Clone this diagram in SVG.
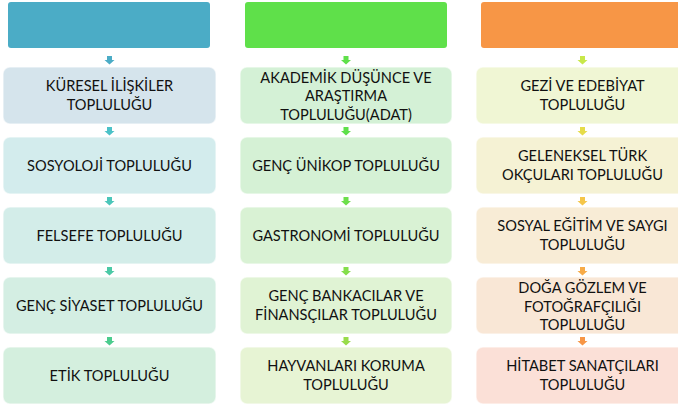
<svg xmlns="http://www.w3.org/2000/svg" xmlns:xlink="http://www.w3.org/1999/xlink" width="678" height="408" viewBox="0 0 678 408">
<defs>
<style>
.hdr{stroke:none}
.box{stroke:#ffffff;stroke-opacity:0.55;stroke-width:1.5}
text{font-family:Lato,"Liberation Sans",sans-serif;font-size:14.6px;fill:#111111;text-anchor:middle}
</style>
<path id="arr" d="M-2.5 0 h5 v4 h2.5 l-5 4.5 l-5 -4.5 h2.5 z"/>
</defs>
<rect width="678" height="408" fill="#ffffff"/>
<g id="connectors">
<use xlink:href="#arr" x="109.5" y="56" fill="#4BACC6"/>
<use xlink:href="#arr" x="109.5" y="127" fill="#4BC2C8"/>
<use xlink:href="#arr" x="109.5" y="197" fill="#4BC6BA"/>
<use xlink:href="#arr" x="109.5" y="267" fill="#4BC9A6"/>
<use xlink:href="#arr" x="109.5" y="337" fill="#4BCC8E"/>
<use xlink:href="#arr" x="346" y="56" fill="#5FE04A"/>
<use xlink:href="#arr" x="346" y="127" fill="#5EE04A"/>
<use xlink:href="#arr" x="346" y="197" fill="#6CDF4A"/>
<use xlink:href="#arr" x="346" y="267" fill="#84DE4A"/>
<use xlink:href="#arr" x="346" y="337" fill="#98DC4A"/>
<use xlink:href="#arr" x="582.5" y="56" fill="#C8E84A"/>
<use xlink:href="#arr" x="582.5" y="127" fill="#E6DC4A"/>
<use xlink:href="#arr" x="582.5" y="197" fill="#F5C64A"/>
<use xlink:href="#arr" x="582.5" y="267" fill="#F7AB48"/>
<use xlink:href="#arr" x="582.5" y="337" fill="#F79646"/>
</g>
<g id="hdr1"><rect class="hdr" x="8" y="2" width="202" height="46" rx="3" fill="#4BACC6"/></g>
<g id="hdr2"><rect class="hdr" x="245" y="2" width="202" height="46" rx="3" fill="#5FE04A"/></g>
<g id="hdr3"><rect class="hdr" x="481" y="2" width="202" height="46" rx="3" fill="#F79646"/></g>

<g id="c1b1"><rect class="box" x="3" y="67" width="213" height="57" rx="7" fill="#D5E4EC"/>
<text x="109.5" y="91">KÜRESEL İLİŞKİLER</text><text x="109.5" y="110">TOPLULUĞU</text></g>
<g id="c1b2"><rect class="box" x="3" y="137" width="213" height="57" rx="7" fill="#D3ECED"/>
<text x="109.5" y="171">SOSYOLOJİ TOPLULUĞU</text></g>
<g id="c1b3"><rect class="box" x="3" y="207" width="213" height="57" rx="7" fill="#D3EDE9"/>
<text x="109.5" y="241">FELSEFE TOPLULUĞU</text></g>
<g id="c1b4"><rect class="box" x="3" y="277" width="213" height="57" rx="7" fill="#D4EEE3"/>
<text x="109.5" y="311">GENÇ SİYASET TOPLULUĞU</text></g>
<g id="c1b5"><rect class="box" x="3" y="347" width="213" height="57" rx="7" fill="#D4EFDE"/>
<text x="109.5" y="381">ETİK TOPLULUĞU</text></g>

<g id="c2b1"><rect class="box" x="240" y="67" width="212" height="57" rx="7" fill="#D4F1D6"/>
<text x="346" y="83">AKADEMİK DÜŞÜNCE VE</text><text x="346" y="101">ARAŞTIRMA</text><text x="346" y="119.5">TOPLULUĞU(ADAT)</text></g>
<g id="c2b2"><rect class="box" x="240" y="137" width="212" height="57" rx="7" fill="#D5F1D5"/>
<text x="346" y="171">GENÇ ÜNİKOP TOPLULUĞU</text></g>
<g id="c2b3"><rect class="box" x="240" y="207" width="212" height="57" rx="7" fill="#D9F2D4"/>
<text x="346" y="241">GASTRONOMİ TOPLULUĞU</text></g>
<g id="c2b4"><rect class="box" x="240" y="277" width="212" height="57" rx="7" fill="#E0F3D4"/>
<text x="346" y="301">GENÇ BANKACILAR VE</text><text x="346" y="320">FİNANSÇILAR TOPLULUĞU</text></g>
<g id="c2b5"><rect class="box" x="240" y="347" width="212" height="57" rx="7" fill="#E7F4D4"/>
<text x="346" y="371">HAYVANLARI KORUMA</text><text x="346" y="390">TOPLULUĞU</text></g>

<g id="c3b1"><rect class="box" x="476" y="67" width="213" height="57" rx="7" fill="#F0F6D4"/>
<text x="582.5" y="91">GEZİ VE EDEBİYAT</text><text x="582.5" y="110">TOPLULUĞU</text></g>
<g id="c3b2"><rect class="box" x="476" y="137" width="213" height="57" rx="7" fill="#F5F2D4"/>
<text x="582.5" y="161">GELENEKSEL TÜRK</text><text x="582.5" y="180">OKÇULARI TOPLULUĞU</text></g>
<g id="c3b3"><rect class="box" x="476" y="207" width="213" height="57" rx="7" fill="#F8ECD6"/>
<text x="582.5" y="231">SOSYAL EĞİTİM VE SAYGI</text><text x="582.5" y="250">TOPLULUĞU</text></g>
<g id="c3b4"><rect class="box" x="476" y="277" width="213" height="57" rx="7" fill="#F9E7D6"/>
<text x="582.5" y="293">DOĞA GÖZLEM VE</text><text x="582.5" y="311.5">FOTOĞRAFÇILIĞI</text><text x="582.5" y="330">TOPLULUĞU</text></g>
<g id="c3b5"><rect class="box" x="476" y="347" width="213" height="57" rx="7" fill="#FBE0D7"/>
<text x="582.5" y="371">HİTABET SANATÇILARI</text><text x="582.5" y="390">TOPLULUĞU</text></g>
</svg>
